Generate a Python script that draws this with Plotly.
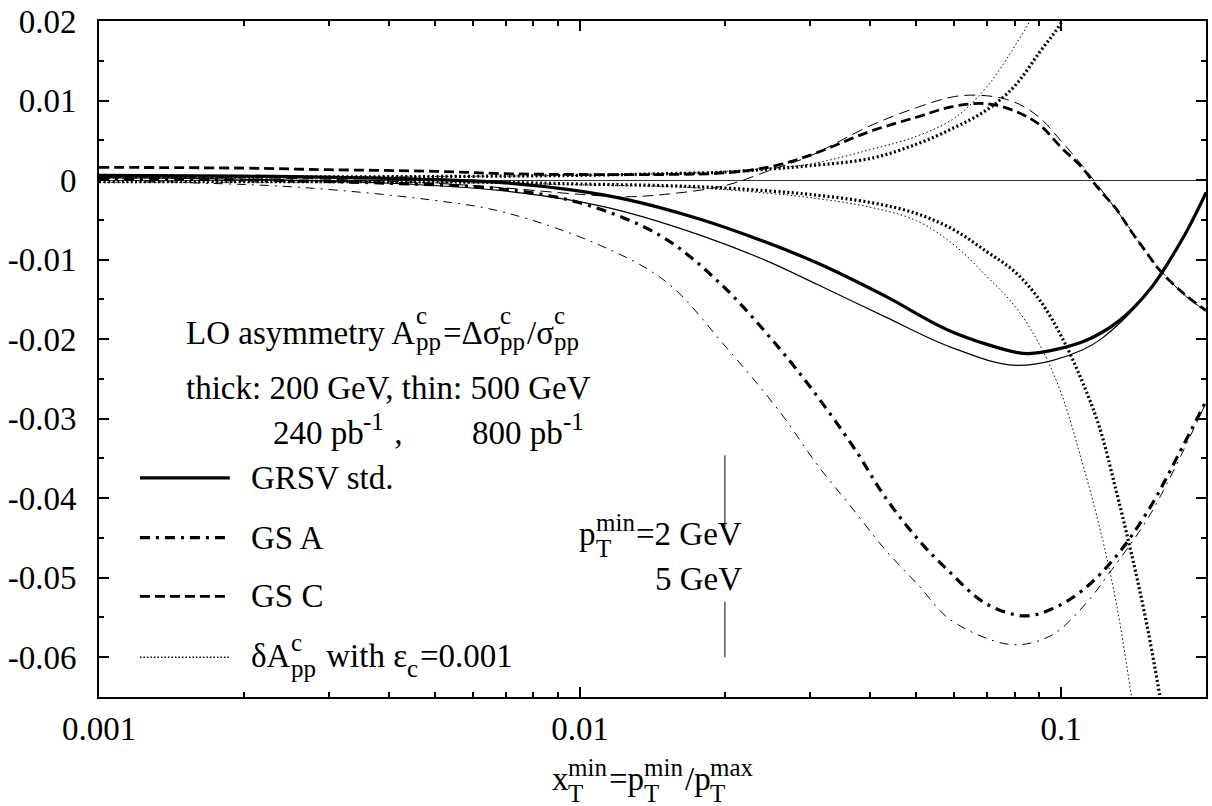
import math
import plotly.graph_objects as go

# ---------------- data ----------------
grsv_thick_x = [0.001, 0.002, 0.004, 0.0068, 0.0095, 0.0124, 0.0177, 0.0243, 0.0313, 0.0431, 0.0589, 0.0812, 0.0868, 0.1112, 0.1313, 0.1536, 0.1806, 0.2]
grsv_thick_y = [0.0006, 0.0005, 0.0002, -0.0003, -0.0012, -0.0024, -0.0049, -0.0078, -0.0105, -0.0146, -0.0190, -0.0217, -0.0218, -0.0203, -0.0178, -0.0136, -0.0069, -0.0016]

grsv_thin_x = [0.001, 0.002, 0.004, 0.0068, 0.0095, 0.0124, 0.0177, 0.0243, 0.0313, 0.0431, 0.0589, 0.0812, 0.1112, 0.1313, 0.1536, 0.1806, 0.2]
grsv_thin_y = [0.0003, 0.0001, -0.0004, -0.0013, -0.0025, -0.0040, -0.0069, -0.0101, -0.0132, -0.0172, -0.0210, -0.0233, -0.0213, -0.0182, -0.0136, -0.0070, -0.0015]

gsa_thick_x = [0.001, 0.002, 0.004, 0.0068, 0.0099, 0.0146, 0.0194, 0.0259, 0.0313, 0.0374, 0.0431, 0.0506, 0.0589, 0.0695, 0.0835, 0.0951, 0.1112, 0.1313, 0.1536, 0.174, 0.2]
gsa_thick_y = [0.0002, 0.0000, -0.0004, -0.0011, -0.0028, -0.0069, -0.0128, -0.0211, -0.0274, -0.0340, -0.0399, -0.0453, -0.0494, -0.0532, -0.0548, -0.0540, -0.0515, -0.0470, -0.0410, -0.0349, -0.0278]

gsa_thin_x = [0.001, 0.0015, 0.0026, 0.0049, 0.0069, 0.0109, 0.0151, 0.0201, 0.0259, 0.0313, 0.0365, 0.0431, 0.0506, 0.0589, 0.0786, 0.0951, 0.1112, 0.1274, 0.1536, 0.2]
gsa_thin_y = [0.0001, -0.0003, -0.0009, -0.0025, -0.0040, -0.0081, -0.0128, -0.0210, -0.0290, -0.0360, -0.0410, -0.0465, -0.0510, -0.0553, -0.0584, -0.0573, -0.0536, -0.0490, -0.0419, -0.0280]

gsc_thick_x = [0.001, 0.002, 0.003, 0.005, 0.007, 0.01, 0.015, 0.02, 0.025, 0.03, 0.04, 0.05, 0.06, 0.07, 0.08, 0.09, 0.1, 0.11, 0.12, 0.13, 0.14, 0.15, 0.16, 0.18, 0.2]
gsc_thick_y = [0.0016, 0.0015, 0.0013, 0.0011, 0.0008, 0.0007, 0.0007, 0.0009, 0.0017, 0.0031, 0.0061, 0.0079, 0.0093, 0.0096, 0.0087, 0.0070, 0.0041, 0.0017, -0.0012, -0.0036, -0.0065, -0.0090, -0.0113, -0.0143, -0.0164]

gsc_thin_x = [0.001, 0.002, 0.003, 0.005, 0.007, 0.01, 0.0125, 0.015, 0.02, 0.025, 0.03, 0.04, 0.05, 0.06, 0.07, 0.08, 0.09, 0.1, 0.11, 0.12, 0.13, 0.14, 0.15, 0.16, 0.18, 0.2]
gsc_thin_y = [0.0005, 0.0003, 0.0001, -0.0004, -0.0010, -0.0018, -0.0021, -0.0018, -0.0007, 0.0013, 0.0030, 0.0068, 0.0091, 0.0105, 0.0106, 0.0098, 0.0079, 0.0049, 0.0020, -0.0009, -0.0037, -0.0064, -0.0090, -0.0112, -0.0144, -0.0165]

err_up_thick_x = [0.001, 0.003, 0.007, 0.01, 0.015, 0.02, 0.025, 0.03, 0.04, 0.05, 0.06, 0.07, 0.08, 0.09, 0.1, 0.11]
err_up_thick_y = [0.0004, 0.0004, 0.0005, 0.0006, 0.0008, 0.0010, 0.0014, 0.0018, 0.0027, 0.0045, 0.0066, 0.0088, 0.0118, 0.0160, 0.0198, 0.0250]

err_up_thin_x = [0.001, 0.003, 0.007, 0.01, 0.015, 0.02, 0.025, 0.03, 0.04, 0.05, 0.06, 0.07, 0.08, 0.09, 0.1]
err_up_thin_y = [0.0004, 0.0004, 0.0005, 0.0006, 0.0008, 0.0011, 0.0015, 0.0020, 0.0038, 0.0055, 0.0078, 0.0117, 0.0168, 0.0222, 0.0290]

err_dn_thick_x = [0.001, 0.003, 0.007, 0.01, 0.015, 0.02, 0.025, 0.03, 0.04, 0.05, 0.06, 0.07, 0.08, 0.09, 0.1, 0.11, 0.12, 0.13, 0.14, 0.15, 0.16, 0.17]
err_dn_thick_y = [-0.0002, -0.0002, -0.0003, -0.0005, -0.0007, -0.0010, -0.0014, -0.0018, -0.0028, -0.0042, -0.0063, -0.0090, -0.0115, -0.0150, -0.0196, -0.0250, -0.0310, -0.0390, -0.0470, -0.0553, -0.0645, -0.0740]

err_dn_thin_x = [0.001, 0.003, 0.007, 0.01, 0.015, 0.02, 0.025, 0.03, 0.04, 0.05, 0.06, 0.07, 0.08, 0.09, 0.1, 0.11, 0.12, 0.13, 0.14, 0.15]
err_dn_thin_y = [-0.0003, -0.0003, -0.0004, -0.0006, -0.0008, -0.0012, -0.0017, -0.0022, -0.0034, -0.0051, -0.0082, -0.0121, -0.0158, -0.0206, -0.0268, -0.0350, -0.0435, -0.0530, -0.0650, -0.0780]

ptcut_x = [0.02, 0.02]
ptcut_upper_y = [-0.0346, -0.0436]
ptcut_lower_y = [-0.0530, -0.0600]

x_range = [0.001, 0.2]
y_range = [-0.065, 0.02]
x_tickvals = [0.001, 0.01, 0.1]
x_ticktext = ["0.001", "0.01", "0.1"]
y_tickvals = [0.02, 0.01, 0.0, -0.01, -0.02, -0.03, -0.04, -0.05, -0.06]
y_ticktext = ["0.02", "0.01", "0", "-0.01", "-0.02", "-0.03", "-0.04", "-0.05", "-0.06"]

legend_labels = ["GRSV std.", "GS A", "GS C"]

# ---------------- styles ----------------
FONT = "Liberation Serif"
FS = 33
SFS = 25
BLACK = "#000000"

STY = {
    "solid_thick": dict(width=3.2, dash="solid"),
    "solid_thin": dict(width=1.2, dash="solid"),
    "dashdot_thick": dict(width=3.2, dash="10px,6px,3px,6px"),
    "dashdot_thin": dict(width=1.0, dash="9px,6px,2px,6px"),
    "dash_thick": dict(width=2.8, dash="10px,5px"),
    "dash_thin": dict(width=1.0, dash="11px,6px"),
    "dot_thick": dict(width=3.2, dash="2px,2.5px"),
    "dot_thin": dict(width=1.0, dash="1.5px,2.5px"),
}

fig = go.Figure()

def add(x, y, sty):
    fig.add_trace(go.Scatter(x=x, y=y, mode="lines", showlegend=False, hoverinfo="skip",
                             line=dict(color=BLACK, shape="spline", smoothing=1.0, **STY[sty])))

add(err_up_thin_x, err_up_thin_y, "dot_thin")
add(err_dn_thin_x, err_dn_thin_y, "dot_thin")
add(err_up_thick_x, err_up_thick_y, "dot_thick")
add(err_dn_thick_x, err_dn_thick_y, "dot_thick")
add(gsc_thin_x, gsc_thin_y, "dash_thin")
add(gsc_thick_x, gsc_thick_y, "dash_thick")
add(gsa_thin_x, gsa_thin_y, "dashdot_thin")
add(gsa_thick_x, gsa_thick_y, "dashdot_thick")
add(grsv_thin_x, grsv_thin_y, "solid_thin")
add(grsv_thick_x, grsv_thick_y, "solid_thick")

for yy in (ptcut_upper_y, ptcut_lower_y):
    fig.add_trace(go.Scatter(x=ptcut_x, y=yy, mode="lines", showlegend=False, hoverinfo="skip",
                             line=dict(color=BLACK, width=1)))

# ---------------- layout helpers ----------------
L, R, T, B = 99, 1208, 18, 697
W, H = 1212, 806

def px2paper(px, py):
    return (px - L) / (R - L), (B - py) / (B - T)

CW = {' ': 250, 'L': 611, 'O': 722, 'a': 444, 's': 389, 'y': 500, 'm': 778, 'e': 444, 't': 278,
      'r': 333, 'A': 722, 'p': 500, '=': 564, 'Δ': 612, 'σ': 549, '/': 278, 'c': 444, 'h': 500,
      'i': 278, 'k': 500, ':': 278, 'G': 722, 'V': 722, ',': 250, 'n': 500, 'b': 500, '-': 333,
      'R': 667, 'S': 556, 'd': 500, '.': 250, 'C': 667, 'δ': 494, 'w': 722, 'ε': 439, 'x': 500,
      'T': 611}

def tw(s, f):
    return sum(CW.get(ch, 500) for ch in s) / 1000.0 * f

annotations = []

def put(text, px, baseline, f):
    xp, yp = px2paper(px, baseline - 0.3375 * f)
    annotations.append(dict(text=text, x=xp, y=yp, xref="paper", yref="paper", xanchor="left",
                            yanchor="middle", showarrow=False, borderpad=0,
                            font=dict(family=FONT, size=f, color=BLACK)))

def rich(px, baseline, parts, anchor="left", sub_dy=9, sup_dy=-16, gap=2):
    total = 0
    for base, sub, sup in parts:
        total += tw(base, FS)
        if sub or sup:
            total += max(tw(sub, SFS), tw(sup, SFS)) + gap
    x = px if anchor == "left" else (px - total if anchor == "right" else px - total / 2)
    for base, sub, sup in parts:
        if base:
            put(base, x, baseline, FS)
            x += tw(base, FS)
        if sub:
            put(sub, x, baseline + sub_dy, SFS)
        if sup:
            put(sup, x, baseline + sup_dy, SFS)
        if sub or sup:
            x += max(tw(sub, SFS), tw(sup, SFS)) + gap

# annotation block
rich(185, 343, [("LO asymmetry A", "pp", "c"), ("=Δσ", "pp", "c"), ("/σ", "pp", "c")], sub_dy=5, sup_dy=-21)
rich(185, 398, [("thick: 200 GeV, thin: 500 GeV", "", "")])
rich(272, 443, [("240 pb", "", "-1"), (" ,", "", "")], sup_dy=-14)
rich(472, 443, [("800 pb", "", "-1")], sup_dy=-14)

# legend
legend_rows = [(488, 477, "solid_thick"), (548, 537, "dashdot_thick"), (607, 596, "dash_thick")]
shapes = []
for (bl, ly, sty), lab in zip(legend_rows, legend_labels):
    rich(250, bl, [(lab, "", "")])
    x0, y0 = px2paper(140, ly)
    x1, _ = px2paper(230, ly)
    shapes.append(dict(type="line", xref="paper", yref="paper", x0=x0, x1=x1, y0=y0, y1=y0,
                       line=dict(color=BLACK, width=STY[sty]["width"], dash=STY[sty]["dash"])))
rich(250, 667, [("δA", "pp", "c"), (" with ε", "c", ""), ("=0.001", "", "")], sub_dy=10, sup_dy=-16)
x0, y0 = px2paper(140, 657)
x1, _ = px2paper(230, 657)
shapes.append(dict(type="line", xref="paper", yref="paper", x0=x0, x1=x1, y0=y0, y1=y0,
                   line=dict(color=BLACK, width=1.5, dash="1.5px,2px")))

# pT cut labels
rich(742, 544, [("p", "T", "min"), ("=2 GeV", "", "")], anchor="right", sub_dy=12, sup_dy=-14)
rich(742, 590, [("5 GeV", "", "")], anchor="right")

# x-axis title
rich((L + R) / 2, 790, [("x", "T", "min"), ("=p", "T", "min"), ("/p", "T", "max")],
     anchor="center", sub_dy=12, sup_dy=-14)

axis_common = dict(showline=True, linecolor=BLACK, linewidth=2, mirror="allticks",
                   ticks="inside", ticklen=10, tickwidth=2, tickcolor=BLACK, showgrid=False,
                   tickfont=dict(family=FONT, size=FS, color=BLACK))

fig.update_layout(
    width=W, height=H,
    margin=dict(l=L, r=W - R, t=T, b=H - B),
    paper_bgcolor="white", plot_bgcolor="white",
    showlegend=False,
    annotations=annotations,
    shapes=shapes,
    xaxis=dict(type="log", range=[math.log10(x_range[0]), math.log10(x_range[1])],
               tickmode="array", tickvals=x_tickvals, ticktext=x_ticktext, zeroline=False,
               ticklabelstandoff=1,
               minor=dict(ticks="inside", ticklen=5, tickwidth=1.5, tickcolor=BLACK, dtick="D1",
                          showgrid=False),
               **axis_common),
    yaxis=dict(range=y_range, tickmode="array", tickvals=y_tickvals, ticktext=y_ticktext,
               zeroline=True, zerolinecolor="#333333", zerolinewidth=1, ticklabelstandoff=14,
               minor=dict(ticks="inside", ticklen=5, tickwidth=1.5, tickcolor=BLACK, dtick=0.005,
                          showgrid=False),
               **axis_common),
)

fig.write_html("out.html")
